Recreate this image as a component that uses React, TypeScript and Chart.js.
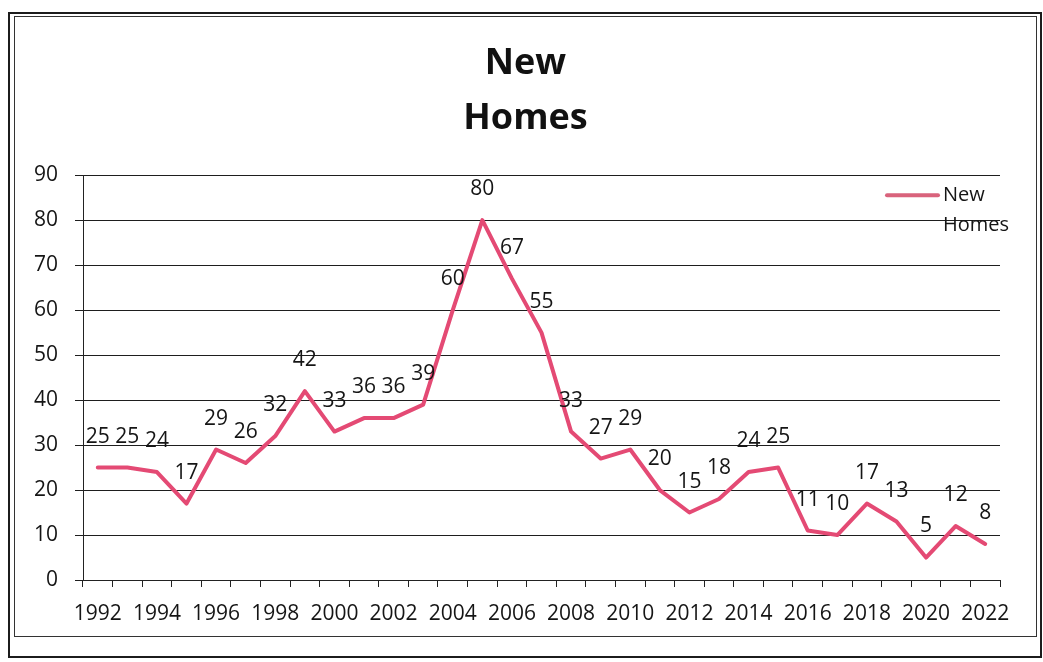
import React, { useEffect, useRef } from 'react';
import { Chart, registerables } from 'chart.js';

Chart.register(...registerables);

const years: string[] = [
  '1992', '1993', '1994', '1995', '1996', '1997', '1998', '1999', '2000', '2001',
  '2002', '2003', '2004', '2005', '2006', '2007', '2008', '2009', '2010', '2011',
  '2012', '2013', '2014', '2015', '2016', '2017', '2018', '2019', '2020', '2021', '2022',
];

const newHomes: number[] = [
  25, 25, 24, 17, 29, 26, 32, 42, 33, 36,
  36, 39, 60, 80, 67, 55, 33, 27, 29, 20,
  15, 18, 24, 25, 11, 10, 17, 13, 5, 12, 8,
];

const seriesName = 'New Homes';
const titleLines: string[] = ['New', 'Homes'];
const yMin = 0;
const yMax = 90;
const yStep = 10;

const FONT = '"Open Sans", "DejaVu Sans", sans-serif';
const LINE_COLOR = '#E44A74';

const dataLabelPlugin = {
  id: 'pointValueLabels',
  afterDatasetsDraw(chart: any) {
    const ctx = chart.ctx;
    const meta = chart.getDatasetMeta(0);
    const values = chart.data.datasets[0].data as number[];
    ctx.save();
    ctx.font = `21px ${FONT}`;
    ctx.fillStyle = '#151515';
    ctx.textAlign = 'center';
    ctx.textBaseline = 'middle';
    meta.data.forEach((pt: any, i: number) => {
      ctx.fillText(String(values[i]), pt.x, pt.y - 31);
    });
    ctx.restore();
  },
};

const legendPlugin = {
  id: 'wrappedLegend',
  afterDraw(chart: any) {
    const ctx = chart.ctx;
    const area = chart.chartArea;
    const ds = chart.data.datasets[0];
    const words = String(ds.label).split(' ');
    const lineX0 = area.right - 113;
    const lineX1 = area.right - 62;
    const y0 = area.top + 20;
    ctx.save();
    ctx.strokeStyle = '#D9637C';
    ctx.lineWidth = 4;
    ctx.lineCap = 'round';
    ctx.beginPath();
    ctx.moveTo(lineX0, y0);
    ctx.lineTo(lineX1, y0);
    ctx.stroke();
    ctx.font = `20px ${FONT}`;
    ctx.fillStyle = '#151515';
    ctx.textAlign = 'left';
    ctx.textBaseline = 'middle';
    words.forEach((w, i) => {
      ctx.fillText(w, area.right - 57, y0 + i * 30);
    });
    ctx.restore();
  },
};

export default function App() {
  const canvasRef = useRef<HTMLCanvasElement | null>(null);

  useEffect(() => {
    if (!canvasRef.current) return;
    const chart = new Chart(canvasRef.current, {
      type: 'line',
      data: {
        labels: years,
        datasets: [
          {
            label: seriesName,
            data: newHomes,
            borderColor: LINE_COLOR,
            backgroundColor: LINE_COLOR,
            borderWidth: 4,
            pointRadius: 0,
            pointHoverRadius: 0,
            tension: 0,
            borderJoinStyle: 'round',
            borderCapStyle: 'round',
            fill: false,
            yAxisID: 'y',
          },
        ],
      },
      options: {
        responsive: false,
        animation: false,
        devicePixelRatio: 1,
        layout: { padding: 0 },
        plugins: {
          legend: { display: false },
          tooltip: { enabled: false },
          title: {
            display: true,
            text: titleLines,
            color: '#111',
            font: { family: FONT, size: 36, weight: 'bold', lineHeight: 1.53 },
            padding: { top: 18, bottom: 29 },
          },
        },
        scales: {
          x: {
            type: 'category',
            offset: true,
            grid: {
              offset: true,
              drawOnChartArea: false,
              drawTicks: true,
              tickLength: 7,
              color: '#222',
              lineWidth: 1,
            },
            border: { display: true, color: '#222', width: 1 },
            ticks: {
              autoSkip: false,
              maxRotation: 0,
              minRotation: 0,
              padding: 14,
              color: '#151515',
              font: { family: FONT, size: 21 },
              callback: (_v: any, i: number) => (i % 2 === 0 ? years[i] : ''),
            },
            afterFit: (scale: any) => {
              scale.height = 55;
            },
          },
          y: {
            min: yMin,
            max: yMax,
            grid: {
              color: '#1e1e1e',
              lineWidth: 1,
              tickLength: 8,
            },
            border: { display: true, color: '#222', width: 1 },
            ticks: {
              stepSize: yStep,
              padding: 17,
              color: '#151515',
              font: { family: FONT, size: 21 },
            },
            afterFit: (scale: any) => {
              scale.width = 67;
            },
          },
          yRightSpace: {
            type: 'linear',
            position: 'right',
            display: true,
            grid: { drawOnChartArea: false, drawTicks: false, display: false },
            border: { display: false },
            ticks: { display: false },
            afterFit: (scale: any) => {
              scale.width = 35;
            },
          },
        },
      },
      plugins: [dataLabelPlugin, legendPlugin],
    });
    return () => chart.destroy();
  }, []);

  return (
    <div style={{ position: 'absolute', left: 0, top: 0, width: 1043, height: 662, background: '#fff' }}>
      <div
        style={{
          position: 'absolute',
          left: 8,
          top: 12,
          width: 1030,
          height: 642,
          border: '2px solid #1c1c1c',
        }}
      />
      <div
        style={{
          position: 'absolute',
          left: 14,
          top: 16,
          width: 1021,
          height: 619,
          border: '1px solid #333',
        }}
      />
      <canvas
        ref={canvasRef}
        width={1019}
        height={617}
        style={{ position: 'absolute', left: 16, top: 18, width: 1019, height: 617, display: 'block' }}
      />
    </div>
  );
}
